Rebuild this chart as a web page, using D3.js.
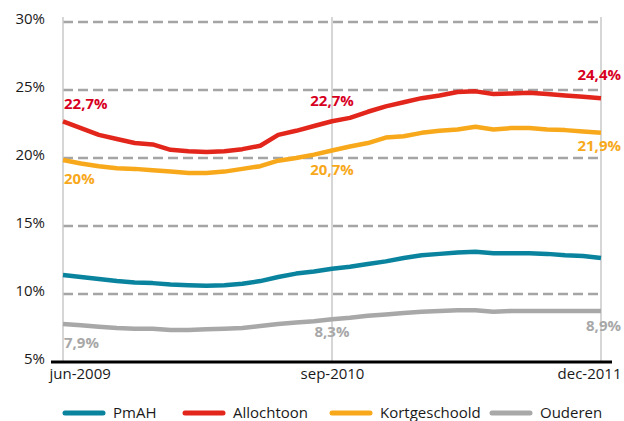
<!DOCTYPE html>
<html>
<head>
<meta charset="utf-8">
<script src="https://cdn.jsdelivr.net/npm/d3@7"></script>
<style>
  body { margin: 0; background: #fff; }
  svg { font-family: "Open Sans", "Noto Sans", sans-serif; }
</style>
</head>
<body>
<svg width="624" height="421"></svg>
<script>
//	months jun-2009 .. dec-2011, one point per month
var months = d3.range(0, 31);
var tickMonths = [0, 15, 30];
var tickLabels = ["jun-2009", "sep-2010", "dec-2011"];
var yTicks = [5, 10, 15, 20, 25, 30];

var seriesNames = ["PmAH", "Allochtoon", "Kortgeschoold", "Ouderen"];
var colors = ["#0a849e", "#e3261c", "#f7a81b", "#a8a8a8"];
var labelColors = ["#0a849e", "#d7001f", "#f7a81b", "#a8a8a8"];

var pmah = [11.4, 11.25, 11.1, 10.95, 10.85, 10.8, 10.7, 10.65, 10.6, 10.65, 10.75, 10.95, 11.25, 11.5, 11.65,
	11.85, 12.0, 12.2, 12.4, 12.65, 12.85, 12.95, 13.05, 13.1, 13.0, 13.0, 13.0, 12.95, 12.85, 12.8, 12.65];
var allochtoon = [22.7, 22.2, 21.7, 21.4, 21.1, 21.0, 20.6, 20.5, 20.45, 20.5, 20.65, 20.9, 21.7, 22.0, 22.35,
	22.7, 22.95, 23.4, 23.8, 24.1, 24.4, 24.6, 24.85, 24.9, 24.7, 24.75, 24.8, 24.7, 24.6, 24.5, 24.4];
var kortgeschoold = [19.85, 19.6, 19.4, 19.25, 19.2, 19.1, 19.0, 18.9, 18.9, 19.0, 19.2, 19.4, 19.8, 20.0, 20.25,
	20.55, 20.85, 21.1, 21.5, 21.6, 21.85, 22.0, 22.1, 22.3, 22.1, 22.2, 22.2, 22.1, 22.05, 21.95, 21.85];
var ouderen = [7.8, 7.7, 7.6, 7.5, 7.45, 7.45, 7.35, 7.35, 7.4, 7.45, 7.5, 7.65, 7.8, 7.9, 8.0,
	8.15, 8.25, 8.4, 8.5, 8.6, 8.7, 8.75, 8.8, 8.8, 8.7, 8.75, 8.75, 8.75, 8.75, 8.75, 8.75];
var allSeries = [pmah, allochtoon, kortgeschoold, ouderen];

//	value labels: series index, month index, text, placement
var valueLabels = [
	{s: 1, m: 0, text: "22,7%", pos: "start", dy: -12},
	{s: 1, m: 15, text: "22,7%", pos: "mid", dy: -15},
	{s: 1, m: 30, text: "24,4%", pos: "end", dy: -18},
	{s: 2, m: 0, text: "20%", pos: "start", dy: 24},
	{s: 2, m: 15, text: "20,7%", pos: "mid", dy: 24},
	{s: 2, m: 30, text: "21,9%", pos: "end", dy: 18},
	{s: 3, m: 0, text: "7,9%", pos: "start", dy: 24},
	{s: 3, m: 15, text: "8,3%", pos: "mid", dy: 18},
	{s: 3, m: 30, text: "8,9%", pos: "end", dy: 20}
];

var svg = d3.select("svg");
var x = d3.scaleLinear().domain([0, 30]).range([63, 601]);
var y = d3.scaleLinear().domain([5, 30]).range([362, 22]);

//	dashed horizontal grid
svg.append("g")
	.selectAll("line")
	.data(yTicks.slice(1))
	.join("line")
		.attr("x1", x(0)).attr("x2", x(30))
		.attr("y1", function(d) { return y(d); })
		.attr("y2", function(d) { return y(d); })
		.attr("stroke", "#a5a5a5")
		.attr("stroke-width", 2.5)
		.attr("stroke-dasharray", "10,5");

//	vertical grid
svg.append("g")
	.selectAll("line")
	.data(tickMonths)
	.join("line")
		.attr("x1", function(d) { return x(d); })
		.attr("x2", function(d) { return x(d); })
		.attr("y1", 17).attr("y2", 362)
		.attr("stroke", "#c8c8c8")
		.attr("stroke-width", 1.5);

//	y tick labels
svg.append("g")
	.selectAll("text")
	.data(yTicks)
	.join("text")
		.attr("x", 45)
		.attr("y", function(d) { return y(d) + 2; })
		.attr("text-anchor", "end")
		.attr("font-size", 15)
		.attr("fill", "#1a1a1a")
		.text(function(d) { return d + "%"; });

//	x axis
var axisX = d3.axisBottom(x)
	.tickValues(tickMonths)
	.tickSize(0)
	.tickPadding(6)
	.tickFormat(function(d, i) { return tickLabels[i]; });
var gx = svg.append("g")
	.attr("transform", "translate(0,362)")
	.call(axisX);
gx.select(".domain").remove();
gx.selectAll("text")
	.attr("font-size", 15)
	.attr("font-family", "\"Open Sans\", sans-serif")
	.attr("fill", "#1a1a1a")
	.attr("text-anchor", function(d, i) { return ["start", "middle", "end"][i]; })
	.attr("dx", function(d, i) { return [-14, 0, 20][i]; });
svg.append("line")
	.attr("x1", 51).attr("x2", 612)
	.attr("y1", 362).attr("y2", 362)
	.attr("stroke", "#000")
	.attr("stroke-width", 3);

//	lines
var line = d3.line()
	.x(function(d, i) { return x(months[i]); })
	.y(function(d) { return y(d); });
svg.append("g")
	.selectAll("path")
	.data(allSeries)
	.join("path")
		.attr("d", function(d) { return line(d); })
		.attr("fill", "none")
		.attr("stroke", function(d, i) { return colors[i]; })
		.attr("stroke-width", 4.5)
		.attr("stroke-linejoin", "round");

//	value labels
svg.append("g")
	.selectAll("text")
	.data(valueLabels)
	.join("text")
		.attr("x", function(d) {
			if (d.pos == "start") return x(d.m) + 1;
			if (d.pos == "end") return 621;
			return x(d.m);
		})
		.attr("y", function(d) { return y(allSeries[d.s][d.m]) + d.dy; })
		.attr("text-anchor", function(d) { return d.pos == "mid" ? "middle" : d.pos; })
		.attr("font-size", 15)
		.attr("font-weight", "bold")
		.attr("fill", function(d) { return labelColors[d.s]; })
		.text(function(d) { return d.text; });

//	legend
var legendX = [63, 183, 330, 490];
var legend = svg.append("g")
	.selectAll("g")
	.data(seriesNames)
	.join("g")
		.attr("transform", function(d, i) { return "translate(" + legendX[i] + ",413)"; });
legend.append("line")
	.attr("x1", 2).attr("x2", 40)
	.attr("stroke", function(d, i) { return colors[i]; })
	.attr("stroke-width", 5)
	.attr("stroke-linecap", "round");
legend.append("text")
	.attr("x", 50)
	.attr("y", 5)
	.attr("font-size", 15)
	.attr("fill", "#1a1a1a")
	.text(function(d) { return d; });
</script>
</body>
</html>
